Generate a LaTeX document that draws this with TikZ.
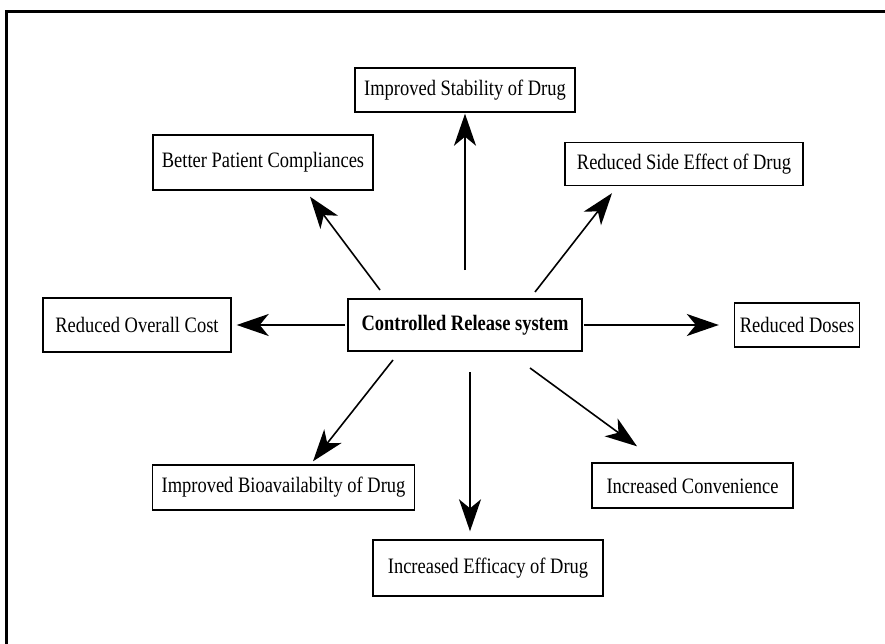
\documentclass[tikz,border=0pt]{standalone}
\usepackage{fontspec}
\setmainfont[FakeStretch=0.84]{Liberation Serif}
\usetikzlibrary{arrows.meta}
\begin{document}
\begin{tikzpicture}[x=1pt,y=-1pt,
  box/.style={draw, line width=1.4pt, inner sep=0pt, align=center,
    font=\fontsize{22}{26}\selectfont},
  arr/.style={line width=1.6pt, -{Stealth[length=32pt,width=22pt,inset=9pt]}},
  frame/.style={line width=3pt}]
\useasboundingbox (0,0) rectangle (885,644);
\draw[frame] (6,644) -- (6,12) -- (885,12);

\node[box, minimum width=234pt, minimum height=52pt, font=\fontsize{22}{26}\selectfont\bfseries] (crs) at (465,325) {Controlled Release system};
\node[box, minimum width=220pt, minimum height=44pt] (stab) at (465,90) {Improved Stability of Drug};
\node[box, minimum width=220pt, minimum height=55pt] (comp) at (263,162.5) {Better Patient Compliances};
\node[box, minimum width=238pt, minimum height=43pt] (side) at (684,164) {Reduced Side Effect of Drug};
\node[box, minimum width=188pt, minimum height=54pt] (cost) at (137,325) {Reduced Overall Cost};
\node[box, minimum width=125pt, minimum height=44pt] (doses) at (797,325) {Reduced Doses};
\node[box, minimum width=262pt, minimum height=45pt] (bio) at (283.5,487.5) {Improved Bioavailabilty of Drug};
\node[box, minimum width=201pt, minimum height=45pt] (conv) at (692.5,485.5) {Increased Convenience};
\node[box, minimum width=230pt, minimum height=56pt] (eff) at (488,568) {Increased Efficacy of Drug};

\coordinate (s1) at (465,270);
\coordinate (s2) at (380,290);
\coordinate (s3) at (535,292);
\coordinate (s4) at (345,325);
\coordinate (s5) at (584,325);
\coordinate (s6) at (393,360);
\coordinate (s7) at (470,372);
\coordinate (s8) at (530,368);

\draw[arr] (s1) -- ([yshift=-1pt]stab.south);
\draw[arr] (s2) -- ([xshift=47pt,yshift=-6pt]comp.south);
\draw[arr] (s3) -- ([xshift=-72pt,yshift=-7pt]side.south);
\draw[arr] (s4) -- ([xshift=5pt]cost.east);
\draw[arr] (s5) -- ([xshift=-15pt]doses.west);
\draw[arr] (s6) -- ([xshift=29.5pt,yshift=3pt]bio.north);
\draw[arr] (s7) -- ([xshift=-18pt,yshift=8pt]eff.north);
\draw[arr] (s8) -- ([xshift=-55.5pt,yshift=16pt]conv.north);
\end{tikzpicture}
\end{document}
